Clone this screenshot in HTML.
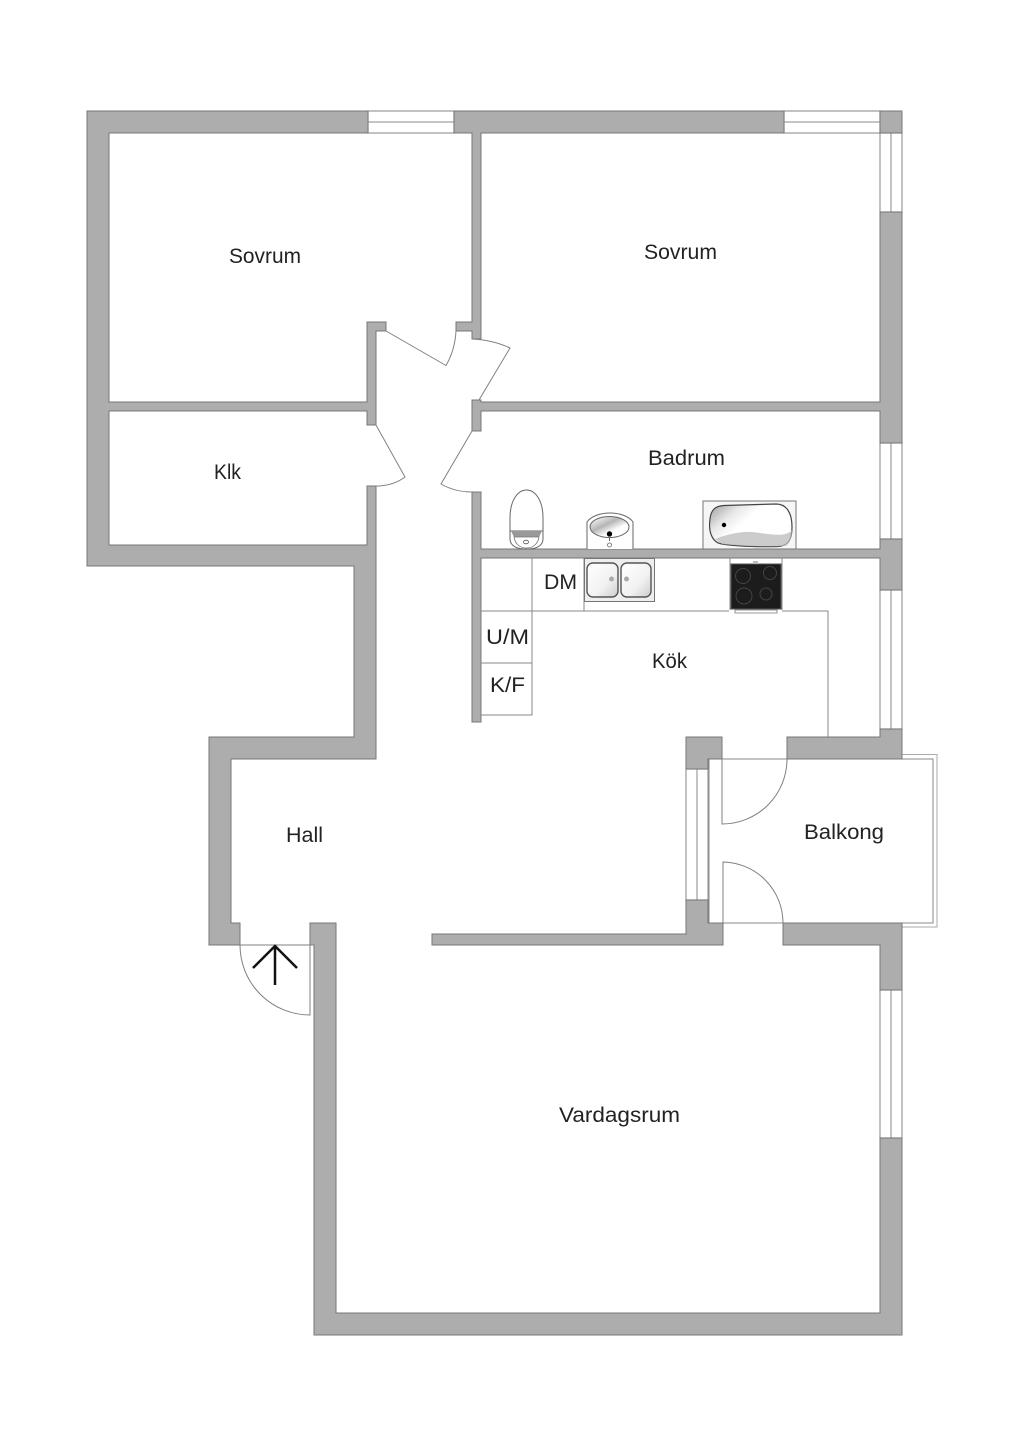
<!DOCTYPE html>
<html><head><meta charset="utf-8"><style>
html,body{margin:0;padding:0;background:#fff}
svg{display:block}
text{font-family:"Liberation Sans",sans-serif;font-size:21px;fill:#222}
.w{fill:#adadad;stroke:#777;stroke-width:1}
.l{fill:none;stroke:#8a8a8a;stroke-width:1}
.win{fill:#fff;stroke:#999;stroke-width:1.2}
.d{fill:none;stroke:#808080;stroke-width:1}
.f{stroke:#666;stroke-width:1}
</style></head><body>
<svg width="1024" height="1449" viewBox="0 0 1024 1449" xmlns="http://www.w3.org/2000/svg">
<defs>
<linearGradient id="g1" x1="0" y1="0" x2="1" y2="0.6"><stop offset="0" stop-color="#999"/><stop offset="0.3" stop-color="#e8e8e8"/><stop offset="0.5" stop-color="#fff"/><stop offset="1" stop-color="#fff"/></linearGradient>
<linearGradient id="g2" x1="0" y1="0" x2="1" y2="1"><stop offset="0" stop-color="#fff"/><stop offset="0.6" stop-color="#f2f2f2"/><stop offset="1" stop-color="#ccc"/></linearGradient>
<linearGradient id="g3" x1="0" y1="0.1" x2="0.8" y2="1"><stop offset="0" stop-color="#fff"/><stop offset="0.4" stop-color="#b5b5b5"/><stop offset="0.7" stop-color="#fff"/></linearGradient>
</defs>

<!-- balcony -->
<path d="M902 754.500H937V927H902" fill="none" stroke="#aaa"/>
<path class="l" d="M902 759H933V923H902M709 759H787M709 759V923H783"/>

<!-- windows -->
<rect class="win" x="368" y="111" width="86" height="22"/><path class="l" d="M368 122H454"/>
<rect class="win" x="784" y="111" width="96" height="22"/><path class="l" d="M784 122H880"/>
<rect class="win" x="880" y="133" width="22" height="79"/><path class="l" d="M891 133V212"/>
<rect class="win" x="880" y="443" width="22" height="96"/><path class="l" d="M891 443V539"/>
<rect class="win" x="880" y="590" width="22" height="139"/><path class="l" d="M891 590V729"/>
<rect class="win" x="880" y="990" width="22" height="148"/><path class="l" d="M891 990V1138"/>
<rect class="win" x="686" y="769" width="22" height="131"/><path class="l" d="M697 769V900"/>

<!-- walls -->
<path class="w" d="M87 111H368V133H109V402H367V322H386V331H376V425H367V411H109V545H367V486H376V759H231V923H240V945H209V737H354V566H87Z"/>
<path class="w" d="M454 111H784V133H481V339H472V331H456V322H472V133H454Z"/>
<rect class="w" x="880" y="111" width="22" height="22"/>
<path class="w" d="M880 212H902V443H880V411H481V431H472V400H481V402H880Z"/>
<path class="w" d="M472 492H481V549H880V539H902V590H880V558H481V722H472Z"/>
<path class="w" d="M787 737H880V729H902V759H787Z"/>
<path class="w" d="M686 737H722V759H708V769H686Z"/>
<path class="w" d="M686 900H708V923H723V945H432V934H686Z"/>
<path class="w" d="M783 923H902V990H880V945H783Z"/>
<path class="w" d="M880 1138H902V1335H314V945H310V923H336V1313H880Z"/>

<!-- doors -->
<path class="d" d="M386 331L446 365.500Q455 350 456 331"/>
<path class="d" d="M472 339Q493 340 510 348L479 400"/>
<path class="d" d="M376 425L405 477Q393 486 376 486"/>
<path class="d" d="M472 431L441 484Q455 492 472 492"/>
<path class="d" d="M787 759A65 65 0 0 1 722 824V759"/>
<path class="d" d="M783 923A61 61 0 0 0 723 862V923"/>
<path class="d" d="M240 945A70 70 0 0 0 310 1015V945M240 945H314"/>
<path d="M275 985V947M253 968L275 946L297 968" fill="none" stroke="#111" stroke-width="2.500"/>

<!-- kitchen lines -->
<path class="l" d="M532 558V715H481M481 611H584M584 558V611H729M782 611H828V737M481 663H532"/>

<!-- toilet -->
<path d="M510 531V518C510 500 518 490 526.500 490C535 490 543 500 543 518V531Z" fill="#fff" class="f"/>
<path d="M510 531H543V539C543 546 536 549 526.500 549C517 549 510 546 510 539Z" fill="#fff" class="f"/>
<path d="M511 531H542L539 537H514Z" fill="#999"/>
<path d="M514 537H539C538 543 534 548 526.500 548C519 548 515 543 514 537Z" fill="#fff" stroke="#777" stroke-width=".8"/>
<ellipse cx="526" cy="542" rx="2.500" ry="1.800" fill="#fff" stroke="#555" stroke-width=".8"/>

<!-- basin -->
<path d="M587 549V522C591 516 601 513 610 513C619 513 629 516 633 522V549" fill="#fff" class="f" stroke-width=".9"/>
<ellipse cx="609.500" cy="527" rx="19.500" ry="10.500" fill="url(#g3)" stroke="#666"/>
<circle cx="609.500" cy="534" r="2.700" fill="#000"/>
<path d="M609.500 536V541" stroke="#666" stroke-width="1"/>
<circle cx="609.500" cy="545" r="2" fill="#fff" stroke="#666" stroke-width=".8"/>

<!-- bath -->
<rect x="703" y="501" width="93" height="48" fill="#f6f6f6" stroke="#777"/>
<path d="M710 519C711 509 716 506 724 505.500L776 504C786 504 792 512 792 527C792 541 787 546 778 546.500C755 547 735 546 722 544C713 543 708 533 710 519Z" fill="url(#g1)" stroke="#444" stroke-width="1.200"/>
<path d="M785 546C790 545 792 536 792 530C785 538 770 534 752 532C740 531 725 535 715 539L722 544C740 546 765 547 785 546Z" fill="#bbb" opacity=".75"/>
<circle cx="724" cy="525" r="2.200" fill="#000"/>

<!-- kitchen sink -->
<rect x="584.500" y="558.500" width="70" height="43" fill="#eee" stroke="#777"/>
<rect x="587" y="563" width="31" height="34" rx="6" fill="url(#g2)" stroke="#555" stroke-width="1.400"/>
<rect x="621" y="563" width="30" height="34" rx="6" fill="url(#g2)" stroke="#555" stroke-width="1.400"/>
<circle cx="611.500" cy="579" r="2.500" fill="#aaa"/>
<circle cx="626.500" cy="579" r="2.500" fill="#aaa"/>

<!-- stove -->
<path d="M730 558V610M782 558V610" class="l"/>
<rect x="731" y="564" width="50" height="45" fill="#1c1c1c" stroke="#555"/>
<rect x="753" y="561" width="5" height="3" fill="#bbb"/>
<path d="M735 610H777V613H735Z" fill="#fff" stroke="#777" stroke-width=".8"/>
<g fill="none" stroke="#444" stroke-width="1">
<circle cx="743" cy="576" r="7.500"/>
<circle cx="770" cy="573" r="6.500"/>
<circle cx="744" cy="596" r="8"/>
<circle cx="766" cy="594" r="6"/>
</g>

<!-- labels -->
<text x="229" y="263" textLength="72" lengthAdjust="spacingAndGlyphs">Sovrum</text>
<text x="644" y="259" textLength="73" lengthAdjust="spacingAndGlyphs">Sovrum</text>
<text x="214" y="479" textLength="27" lengthAdjust="spacingAndGlyphs">Klk</text>
<text x="648" y="465" textLength="77" lengthAdjust="spacingAndGlyphs">Badrum</text>
<text x="544" y="589" textLength="33" lengthAdjust="spacingAndGlyphs">DM</text>
<text x="486" y="644" textLength="43" lengthAdjust="spacingAndGlyphs">U/M</text>
<text x="490" y="692" textLength="35" lengthAdjust="spacingAndGlyphs">K/F</text>
<text x="652" y="668" textLength="35" lengthAdjust="spacingAndGlyphs">Kök</text>
<text x="286" y="842" textLength="37" lengthAdjust="spacingAndGlyphs">Hall</text>
<text x="804" y="839" textLength="80" lengthAdjust="spacingAndGlyphs">Balkong</text>
<text x="559" y="1122" textLength="121" lengthAdjust="spacingAndGlyphs">Vardagsrum</text>
</svg>
</body></html>
